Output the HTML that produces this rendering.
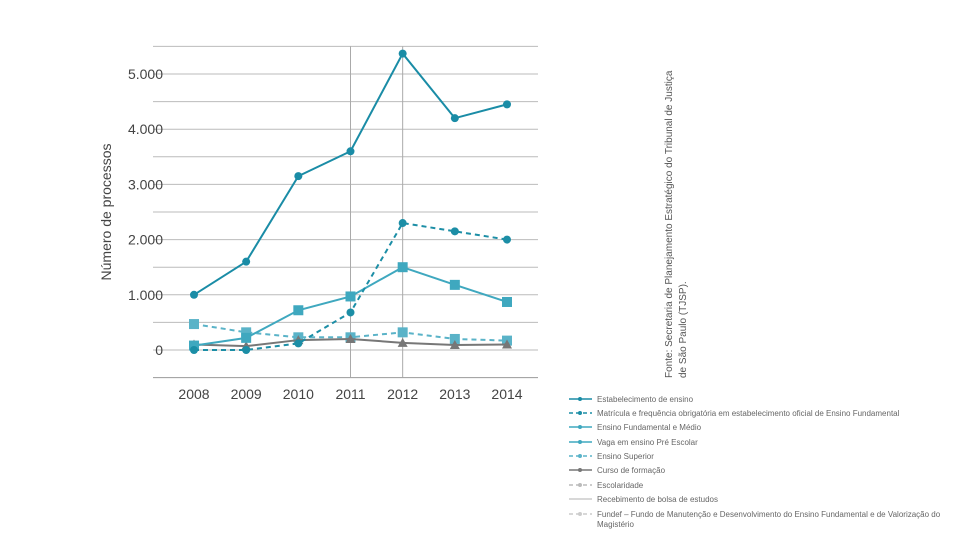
<!DOCTYPE html>
<html><head><meta charset="utf-8"><style>
body{margin:0;width:960px;height:540px;background:#fff;overflow:hidden;font-family:"Liberation Sans",sans-serif}
</style></head><body>
<svg id="chart" width="960" height="540" xmlns="http://www.w3.org/2000/svg">
<g id="grid"></g>
<g id="axes"></g>
<g id="series"></g>
<text transform="translate(111,212) rotate(-90)" text-anchor="middle" font-size="14" fill="#444">Número de processos</text>
<g font-size="10" fill="#555">
<text transform="translate(672,378) rotate(-90)">Fonte: Secretaria de Planejamento Estratégico do Tribunal de Justiça</text>
<text transform="translate(686,378) rotate(-90)">de São Paulo (TJSP).</text>
</g>
<g id="legend"></g>
</svg>
<script>
const years=["2008","2009","2010","2011","2012","2013","2014"];
const yTicks=[0,1000,2000,3000,4000,5000];
const yTickLabels=["0","1.000","2.000","3.000","4.000","5.000"];
const estabelecimento=[1000,1600,3150,3600,5370,4200,4450];
const matricula=[0,0,120,680,2300,2150,2000];
const fundamentalMedio=[80,220,720,970,1500,1180,870];
const ensinoSuperior=[470,320,230,230,320,200,170];
const cursoFormacao=[100,70,180,200,130,90,100];
const legendLabels=["Estabelecimento de ensino","Matrícula e frequência obrigatória em estabelecimento oficial de Ensino Fundamental","Ensino Fundamental e Médio","Vaga em ensino Pré Escolar","Ensino Superior","Curso de formação","Escolaridade","Recebimento de bolsa de estudos","Fundef – Fundo de Manutenção e Desenvolvimento do Ensino Fundamental e de Valorização do Magistério"];

const NS="http://www.w3.org/2000/svg";
const X0=194,XS=(507-194)/6;
const x=i=>X0+i*XS;
const y=v=>350-v*(276/5000);
function mk(tag,attrs,parent){const e=document.createElementNS(NS,tag);for(const k in attrs)e.setAttribute(k,attrs[k]);parent.appendChild(e);return e;}
const grid=document.getElementById('grid'),axes=document.getElementById('axes'),ser=document.getElementById('series'),leg=document.getElementById('legend');
for(let v=-500;v<=5500;v+=500){
  const l=mk('line',{x1:153,x2:538,y1:y(v),y2:y(v),stroke:v===-500?'#999':'#bbb','stroke-width':1},grid);
  
  
}
[3,4].forEach(i=>{
  const l=mk('line',{x1:x(i),x2:x(i),y1:y(5500),y2:y(-500),stroke:'#aaa','stroke-width':1},grid);
  
  
});
yTicks.forEach((v,i)=>{
  const t=mk('text',{x:163,y:y(v)+5,'text-anchor':'end','font-size':14,fill:'#444'},axes);
  t.textContent=yTickLabels[i];
  
  
});
years.forEach((yr,i)=>{
  const t=mk('text',{x:x(i),y:399,'text-anchor':'middle','font-size':14,fill:'#444'},axes);
  t.textContent=yr;
  
  
});
function marker(type,cx,cy,color,g,s){
  let m;
  if(type==='circle')m=mk('circle',{cx,cy,r:s||4,fill:color},g);
  else if(type==='square')m=mk('rect',{x:cx-5,y:cy-5,width:10,height:10,fill:color},g);
  else m=mk('polygon',{points:`${cx},${cy-5} ${cx-5},${cy+4} ${cx+5},${cy+4}`,fill:color},g);
  return m;
}
const seriesDefs=[
 [ensinoSuperior,'#5ab3c8','5,4','square','ensino-superior'],
 [cursoFormacao,'#777','','triangle','curso-formacao'],
 [fundamentalMedio,'#3fa8bf','','square','ensino-fundamental-medio'],
 [matricula,'#1c8ea6','5,4','circle','matricula'],
 [estabelecimento,'#1a8ca6','','circle','estabelecimento']
];
seriesDefs.forEach(([data,color,dash,mt,name])=>{
  const g=mk('g',{},ser);
  
  
  const p=mk('polyline',{points:data.map((v,i)=>x(i)+','+y(v)).join(' '),fill:'none',stroke:color,'stroke-width':2,'stroke-dasharray':dash},g);
  
  
  data.forEach((v,i)=>{
    const m=marker(mt,x(i),y(v),color,g);
    
    
  });
});
const legStyles=[['#1a8ca6','','circle'],['#1c8ea6','4,3','circle'],['#3fa8bf','','square'],['#3fa8bf','','triangle'],['#5ab3c8','4,3','square'],['#777','','triangle'],['#bbb','4,3','circle'],['#ccc','',''],['#ccc','4,3','square']];
const legY=[399,413,427,442,456,470,485,499,514];
legendLabels.forEach((lab,i)=>{
  const g=mk('g',{},leg);
  
  
  const [c,d,mt]=legStyles[i];const yy=legY[i];
  mk('line',{x1:569,x2:592,y1:yy,y2:yy,stroke:c,'stroke-width':1.5,'stroke-dasharray':d},g);
  if(mt){const m=mk('circle',{cx:580,cy:yy,r:2,fill:c},g);}
  const t=mk('text',{x:597,y:yy+3,'font-size':8,fill:'#666'},g);
  if(i===8){t.textContent="Fundef – Fundo de Manutenção e Desenvolvimento do Ensino Fundamental e de Valorização do";
    const t2=mk('text',{x:597,y:yy+13,'font-size':8,fill:'#666'},g);t2.textContent="Magistério";}
  else t.textContent=lab;
});
</script>
</body></html>
